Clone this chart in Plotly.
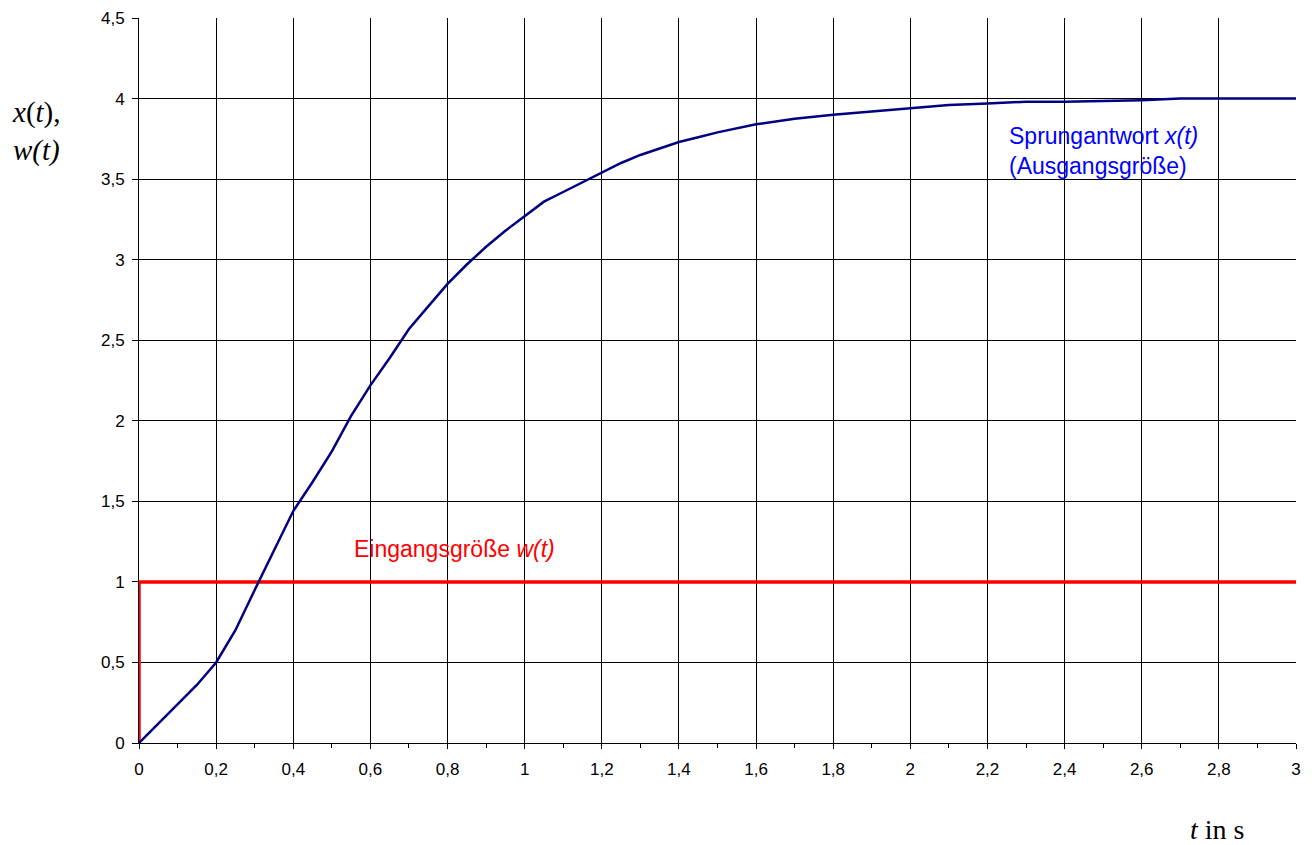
import plotly.graph_objects as go

# Step response x(t) (Sprungantwort)
t_vals = [0, 0.05, 0.1, 0.15, 0.2, 0.25, 0.3, 0.35, 0.4, 0.45, 0.5, 0.55, 0.6, 0.65,
          0.7, 0.75, 0.8, 0.85, 0.9, 0.95, 1.0, 1.05, 1.1, 1.15, 1.2, 1.25, 1.3, 1.35,
          1.4, 1.45, 1.5, 1.6, 1.7, 1.8, 1.9, 2.0, 2.1, 2.2, 2.3, 2.4, 2.5, 2.6, 2.7,
          2.8, 2.9, 3.0]
x_vals = [0, 0.12, 0.24, 0.36, 0.50, 0.70, 0.95, 1.20, 1.44, 1.62, 1.81, 2.03, 2.22, 2.39,
          2.57, 2.71, 2.85, 2.97, 3.08, 3.18, 3.27, 3.36, 3.42, 3.48, 3.54, 3.60, 3.65, 3.69,
          3.73, 3.76, 3.79, 3.84, 3.875, 3.90, 3.92, 3.94, 3.96, 3.97, 3.98, 3.98, 3.985, 3.99, 4.0,
          4.0, 4.0, 4.0]

# Input step w(t) (Eingangsgröße)
w_t = [0, 0, 3]
w_vals = [0, 1, 1]

fig = go.Figure()
fig.add_trace(go.Scatter(x=w_t, y=w_vals, mode="lines",
                         line=dict(color="#FF0000", width=3.5), showlegend=False))
fig.add_trace(go.Scatter(x=t_vals, y=x_vals, mode="lines",
                         line=dict(color="#000080", width=2.5), showlegend=False))

sans = "Liberation Sans, Arial, sans-serif"
serif = "Liberation Serif, Times New Roman, serif"

fig.update_layout(
    width=1304, height=837,
    margin=dict(l=131, r=16, t=10, b=102, autoexpand=False),
    paper_bgcolor="white", plot_bgcolor="white",
    separators=",.",
    font=dict(family=sans, size=16, color="black"),
    xaxis=dict(range=[0, 3], dtick=0.2, tick0=0, showgrid=True, gridcolor="black",
               gridwidth=1, showline=True, linecolor="black", linewidth=1,
               ticks="outside", ticklen=5, tickcolor="black", ticklabelstandoff=6,
               minor=dict(dtick=0.1, ticks="outside", ticklen=4, tickcolor="black", showgrid=False),
               zeroline=False, automargin=False, tickfont=dict(size=17, family=sans)),
    yaxis=dict(range=[0, 4.5], dtick=0.5, tick0=0, showgrid=True, gridcolor="black",
               gridwidth=1, showline=True, linecolor="black", linewidth=1,
               ticks="outside", ticklen=6, tickcolor="black", ticklabelstandoff=4,
               zeroline=False, automargin=False, tickfont=dict(size=17, family=sans)),
)

fig.add_annotation(x=2.25, y=3.675, xref="x", yref="y", xanchor="left", yanchor="middle",
                   align="left", showarrow=False,
                   text="Sprungantwort <i>x(t)</i><br>(Ausgangsgröße)",
                   font=dict(family=sans, size=23, color="#0000FF"))
fig.add_annotation(x=0.552, y=1.204, xref="x", yref="y", xanchor="left", yanchor="middle",
                   showarrow=False, text="Eingangsgröße <i>w(t)</i>",
                   font=dict(family=sans, size=23, color="#FF0000"))
fig.add_annotation(x=-0.1115, y=0.843, xref="paper", yref="paper", xanchor="left",
                   yanchor="middle", align="left", showarrow=False,
                   text="<i>x</i>(<i>t</i>),<br><i>w(t)</i>",
                   font=dict(family=serif, size=29, color="black"))
fig.add_annotation(x=0.932, y=-0.1186, xref="paper", yref="paper", xanchor="center",
                   yanchor="middle", showarrow=False, height=26, valign="middle",
                   text="<i>t</i> in s",
                   font=dict(family=serif, size=28, color="black"))

fig.write_html("out.html")
